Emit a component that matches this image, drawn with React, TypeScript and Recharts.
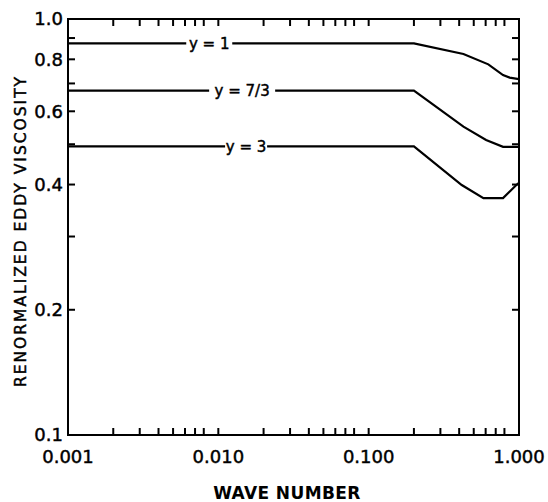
import React from "react";
import {
  LineChart,
  Line,
  XAxis,
  YAxis,
  ReferenceArea,
  ReferenceDot,
  Label,
} from "recharts";

// ---- data ----
const xOne = [0.001, 0.2, 0.427, 0.625, 0.783, 0.867, 1.0];
const yOne = [0.874, 0.874, 0.824, 0.778, 0.733, 0.723, 0.717];

const xSevenThirds = [0.001, 0.2, 0.427, 0.604, 0.783, 1.0];
const ySevenThirds = [0.673, 0.673, 0.551, 0.512, 0.493, 0.493];

const xThree = [0.001, 0.2, 0.416, 0.58, 0.783, 0.96, 1.0];
const yThree = [0.494, 0.494, 0.399, 0.371, 0.371, 0.399, 0.404];

const curveLabels = ["y = 1", "y = 7/3", "y = 3"];
const curveLabelX = [0.0087, 0.0144, 0.0153];
const curveLabelY = [0.874, 0.673, 0.494];

const xTicks = [
  0.001, 0.002, 0.003, 0.004, 0.005, 0.006, 0.007, 0.008,
  0.01, 0.02, 0.03, 0.04, 0.05, 0.06, 0.07, 0.08,
  0.1, 0.2, 0.3, 0.4, 0.5, 0.6, 0.7, 0.8,
  1.0,
];
const xMajorTicks = [0.001, 0.01, 0.1, 1.0];
const xMajorLabels = ["0.001", "0.010", "0.100", "1.000"];

const yTicks = [0.1, 0.2, 0.3, 0.4, 0.5, 0.6, 0.7, 0.8, 0.9, 1.0];
const yMajorTicks = [0.1, 0.2, 0.4, 0.6, 0.8, 1.0];
const yMajorLabels = ["0.1", "0.2", "0.4", "0.6", "0.8", "1.0"];

// ---- layout / style ----
const W = 548;
const H = 502;
const MARGIN = { top: 19, right: 29, left: 8, bottom: 37 };
const Y_AXIS_W = 60;
const X_AXIS_H = 30;
const PLOT_LEFT = MARGIN.left + Y_AXIS_W;
const PLOT_RIGHT = W - MARGIN.right;
const PLOT_TOP = MARGIN.top;
const PLOT_BOTTOM = H - MARGIN.bottom - X_AXIS_H;
const TICK_LEN = 7;
const FONT = "'DejaVu Sans', sans-serif";
const LABEL_GAP = [46, 66, 42];
const TEXT_STROKE = 0.45;

const toRows = (xs: number[], ys: number[]) => xs.map((x, i) => ({ x, y: ys[i] }));
const seriesOne = toRows(xOne, yOne);
const seriesSeven = toRows(xSevenThirds, ySevenThirds);
const seriesThree = toRows(xThree, yThree);

const findLabel = (v: number, majors: number[], labels: string[]) => {
  const i = majors.findIndex((m) => Math.abs(Math.log10(m) - Math.log10(v)) < 1e-6);
  return i >= 0 ? labels[i] : null;
};

const XTick = (props: any) => {
  const { x, payload } = props;
  const lab = findLabel(payload.value, xMajorTicks, xMajorLabels);
  return (
    <g>
      <line x1={x} x2={x} y1={PLOT_BOTTOM} y2={PLOT_BOTTOM - TICK_LEN} stroke="#000" strokeWidth={2} />
      <line x1={x} x2={x} y1={PLOT_TOP} y2={PLOT_TOP + TICK_LEN} stroke="#000" strokeWidth={2} />
      {lab && (
        <text
          x={x}
          y={PLOT_BOTTOM + 28}
          textAnchor="middle"
          fontFamily={FONT}
          fontSize={18}
          fill="#000"
          stroke="#000"
          strokeWidth={TEXT_STROKE}
        >
          {lab}
        </text>
      )}
    </g>
  );
};

const YTick = (props: any) => {
  const { y, payload } = props;
  const lab = findLabel(payload.value, yMajorTicks, yMajorLabels);
  return (
    <g>
      <line x1={PLOT_LEFT} x2={PLOT_LEFT + TICK_LEN} y1={y} y2={y} stroke="#000" strokeWidth={2} />
      <line x1={PLOT_RIGHT} x2={PLOT_RIGHT - TICK_LEN} y1={y} y2={y} stroke="#000" strokeWidth={2} />
      {lab && (
        <text
          x={PLOT_LEFT - 5}
          y={y}
          dy="0.36em"
          textAnchor="end"
          fontFamily={FONT}
          fontSize={18}
          fill="#000"
          stroke="#000"
          strokeWidth={TEXT_STROKE}
        >
          {lab}
        </text>
      )}
    </g>
  );
};

const makeCurveLabel = (i: number) => (p: any) => {
  const { cx, cy } = p;
  return (
    <g>
      <rect x={cx - LABEL_GAP[i] / 2} y={cy - 4} width={LABEL_GAP[i]} height={8} fill="#fff" />
      <text
        x={cx}
        y={cy}
        dy="0.36em"
        textAnchor="middle"
        fontFamily={FONT}
        fontSize={15}
        fill="#000"
        stroke="#000"
        strokeWidth={TEXT_STROKE}
      >
        {curveLabels[i]}
      </text>
    </g>
  );
};

export default function App() {
  return (
    <div style={{ position: "absolute", left: 0, top: 0, width: W, height: H, background: "#fff" }}>
      <LineChart width={W} height={H} margin={MARGIN}>
        <XAxis
          dataKey="x"
          type="number"
          scale="log"
          domain={[0.001, 1]}
          allowDataOverflow
          ticks={xTicks}
          interval={0}
          tick={<XTick />}
          tickLine={false}
          axisLine={false}
          height={X_AXIS_H}
        >
          <Label
            content={() => (
              <text
                x={287}
                y={499}
                textAnchor="middle"
                fontFamily={FONT}
                fontWeight="bold"
                fontSize={17}
                letterSpacing={0.4}
                fill="#000"
              >
                WAVE NUMBER
              </text>
            )}
          />
        </XAxis>
        <YAxis
          dataKey="y"
          type="number"
          scale="log"
          domain={[0.1, 1]}
          allowDataOverflow
          ticks={yTicks}
          interval={0}
          tick={<YTick />}
          tickLine={false}
          axisLine={false}
          width={Y_AXIS_W}
        >
          <Label
            content={() => (
              <text
                x={20}
                y={231}
                transform="rotate(-90 20 231)"
                dy="0.36em"
                textAnchor="middle"
                fontFamily={FONT}
                fontSize={15.5}
                letterSpacing={2}
                fill="#000"
                stroke="#000"
                strokeWidth={TEXT_STROKE}
              >
                RENORMALIZED EDDY VISCOSITY
              </text>
            )}
          />
        </YAxis>
        <Line data={seriesOne} dataKey="y" type="linear" stroke="#000" strokeWidth={2.2} dot={false} isAnimationActive={false} />
        <Line data={seriesSeven} dataKey="y" type="linear" stroke="#000" strokeWidth={2.2} dot={false} isAnimationActive={false} />
        <Line data={seriesThree} dataKey="y" type="linear" stroke="#000" strokeWidth={2.2} dot={false} isAnimationActive={false} />
        <ReferenceArea x1={0.001} x2={1} y1={0.1} y2={1} fill="none" stroke="#000" strokeWidth={2} ifOverflow="visible" />
        {curveLabels.map((_, i) => (
          <ReferenceDot key={i} x={curveLabelX[i]} y={curveLabelY[i]} r={0} shape={makeCurveLabel(i)} ifOverflow="visible" />
        ))}
      </LineChart>
    </div>
  );
}
